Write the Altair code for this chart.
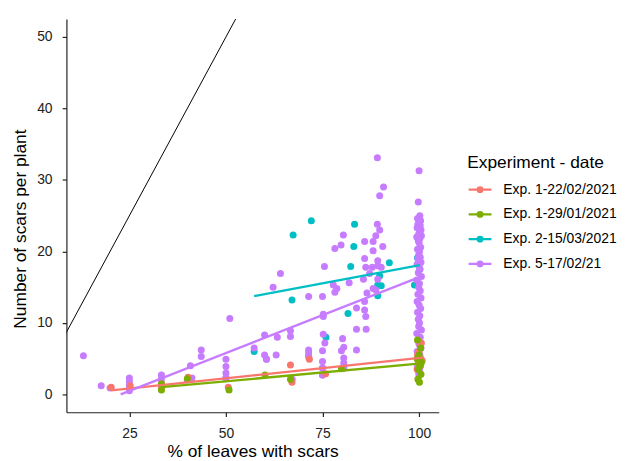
import altair as alt
import numpy as np
import pandas as pd

groups = ["Exp. 1-22/02/2021", "Exp. 1-29/01/2021", "Exp. 2-15/03/2021", "Exp. 5-17/02/21"]
colors = ["#F8766D", "#7CAE00", "#00BFC4", "#C77CFF"]

# Exp. 1-22/02/2021
red_x = [20.3, 25.2, 33.3, 33.3, 40.2, 50.6, 66.7, 67.1, 71.6, 75.8,
         100.6, 100.3, 100.0, 99.6, 100.5, 100.8, 99.8, 100.2, 99.5, 100.4]
red_y = [1.0, 1.2, 1.2, 0.8, 2.4, 1.0, 4.1, 1.7, 4.9, 2.9,
         7.2, 6.9, 6.0, 5.5, 5.0, 4.7, 4.5, 4.0, 3.5, 4.0]

# Exp. 1-29/01/2021
green_x = [33.3, 33.3, 40.0, 50.8, 60.1, 66.7, 79.9,
           99.6, 100.4, 100.0, 99.5, 100.6, 100.2, 99.8, 100.5, 99.7, 100.1]
green_y = [0.6, 1.5, 2.2, 0.6, 2.7, 2.1, 3.6,
           7.6, 6.5, 5.5, 5.0, 4.5, 4.0, 3.5, 2.8, 2.1, 1.7]

# Exp. 2-15/03/2021
cyan_x = [57.3, 67.1, 67.4, 72.1, 75.9, 81.6, 82.3, 83.1, 83.3, 89.3,
          89.8, 90.2, 89.3, 92.3, 98.8, 100.2, 99.6]
cyan_y = [6.0, 13.2, 22.3, 24.3, 8.0, 11.3, 17.9, 20.7, 23.8, 15.3,
          16.6, 15.2, 13.8, 18.4, 15.3, 17.5, 19.1]

# Exp. 5-17/02/21
purple_x = [13.1, 17.7, 20.0, 25.0, 25.0, 25.0, 25.0, 25.0, 33.3, 33.3,
            33.3, 40.0, 40.8, 41.2, 43.6, 43.6, 50.0, 50.0, 50.0, 50.0,
            51.0, 57.3, 60.0, 60.0, 60.5, 63.0, 63.3, 62.2, 64.1, 66.7,
            66.7, 67.1, 71.4, 71.4, 71.4, 71.4, 75.0, 75.5, 75.2, 75.2,
            75.2, 75.6, 75.0, 75.0, 75.0, 75.0, 77.8, 78.7, 78.2, 78.2,
            79.8, 80.4, 80.2, 80.5, 79.9, 80.5, 80.5, 80.5, 81.9, 83.8,
            83.8, 83.8, 85.9, 85.9, 86.2, 86.3, 86.5, 85.6, 85.9, 86.2,
            85.9, 87.2, 87.9, 88.1, 88.1, 88.1, 88.8, 88.8, 89.2, 89.8,
            89.3, 89.3, 89.3, 90.2, 90.6, 89.2, 90.8, 89.8,
            75.0, 67.1, 71.4, 80.5, 75.0, 60.5, 50.0,
            100.0, 99.8, 100.2, 99.6, 100.4, 100.0, 99.7, 100.3, 99.5, 100.5,
            100.1, 99.9, 100.6, 99.4, 100.2, 99.8, 100.0, 100.4, 99.6, 100.1,
            99.9, 100.3, 99.7, 100.5, 99.5, 100.0, 100.2, 99.8, 100.6, 99.4,
            100.1, 99.9, 100.3, 99.7, 100.5, 99.5, 100.0, 100.4, 99.6, 100.2,
            99.8, 100.1, 99.9, 100.6, 99.4, 100.3, 99.7, 100.0, 100.5, 99.5,
            100.2, 99.8, 100.4, 99.6, 100.1, 99.9, 100.0]
purple_y = [5.4, 1.2, 0.9, 2.3, 1.8, 1.3, 0.8, 0.5, 2.7, 2.2,
            1.6, 2.0, 4.0, 2.3, 6.2, 5.3, 4.9, 3.9, 3.0, 2.3,
            10.6, 6.5, 8.3, 5.5, 4.9, 5.5, 8.0, 15.0, 16.9, 8.9,
            8.1, 2.1, 13.7, 6.2, 5.8, 5.3, 13.7, 17.9, 11.2, 10.9,
            8.4, 7.2, 6.1, 4.6, 3.7, 2.7, 15.3, 14.8, 14.3, 20.4,
            20.9, 22.3, 7.8, 6.6, 6.1, 5.1, 4.4, 3.7, 15.6, 12.1,
            9.1, 6.2, 13.0, 11.8, 10.9, 9.1, 14.2, 16.1, 19.0, 17.8,
            21.4, 16.9, 17.8, 21.4, 20.1, 14.8, 14.6, 22.2, 23.8, 23.0,
            18.7, 18.0, 16.1, 17.8, 20.7, 33.1, 29.0, 27.8,
            2.7, 2.1, 5.3, 3.7, 3.7, 4.9, 2.3,
            31.3, 26.9, 25.0, 24.6, 24.3, 24.0, 23.8, 23.6, 23.3, 23.0,
            22.7, 22.4, 22.2, 22.0, 21.8, 21.5, 21.2, 20.6, 20.3, 20.0,
            19.5, 19.2, 19.0, 18.5, 18.2, 18.0, 17.5, 17.0, 16.5, 16.0,
            15.5, 15.0, 14.5, 14.0, 13.5, 13.0, 12.5, 12.0, 11.5, 11.0,
            10.5, 10.0, 9.5, 9.0, 8.5, 8.0, 7.5, 7.0, 6.5, 6.0,
            5.5, 5.0, 4.5, 4.0, 3.5, 3.0, 2.6]

# identity reference line y = x
ref_x = [0, 60]

xs = [red_x, green_x, cyan_x, purple_x]
ys = [red_y, green_y, cyan_y, purple_y]
draw_order = [2, 3, 0, 1]

pts = pd.concat(
    [pd.DataFrame({"x": xs[g], "y": ys[g], "grp": groups[g]}) for g in draw_order],
    ignore_index=True,
)

rows = []
for g in range(4):
    a, b = np.polyfit(xs[g], ys[g], 1)
    x0, x1 = min(xs[g]), max(xs[g])
    if a > 0 and a * x0 + b < 0:
        x0 = -b / a
    rows.append({"x": x0, "y": a * x0 + b, "grp": groups[g]})
    rows.append({"x": x1, "y": a * x1 + b, "grp": groups[g]})
fits = pd.DataFrame(rows)
ref = pd.DataFrame({"x": ref_x, "y": ref_x})

xscale = alt.Scale(domain=[8.7, 105.1], nice=False, zero=False)
yscale = alt.Scale(domain=[-2.5, 52.5], nice=False, zero=False)
xaxis = alt.Axis(values=[25, 50, 75, 100], title="% of leaves with scars",
                 labelPadding=10, titlePadding=2.4)
yaxis = alt.Axis(values=[0, 10, 20, 30, 40, 50], title="Number of scars per plant",
                 labelPadding=10.2, titlePadding=7.7, titleY=211.5)
cscale = alt.Scale(domain=groups, range=colors)
sym = "M-1,0H1M-0.2,0A0.2,0.2,0,1,0,0.2,0A0.2,0.2,0,1,0,-0.2,0"
leg = alt.Legend(title="Experiment - date", symbolType=sym)

points = alt.Chart(pts).mark_circle(size=50, opacity=1).encode(
    x=alt.X("x:Q", scale=xscale, axis=xaxis),
    y=alt.Y("y:Q", scale=yscale, axis=yaxis),
    color=alt.Color("grp:N", scale=cscale, legend=leg),
)
lines = alt.Chart(fits).mark_line(strokeWidth=2.3).encode(
    x="x:Q", y="y:Q", color=alt.Color("grp:N", scale=cscale, legend=leg),
)
abline = alt.Chart(ref).mark_line(color="black", strokeWidth=1, clip=True).encode(
    x="x:Q", y="y:Q",
)

chart = alt.layer(points, lines, abline).properties(
    width=376, height=397,
    autosize=alt.AutoSizeParams(type="none"),
    padding={"left": 59, "top": 9, "right": 182, "bottom": 46},
).configure_view(stroke=None).configure_axis(
    grid=False, domainColor="#222222", tickColor="#222222", domainWidth=1.2, tickWidth=1.2,
    tickSize=4.3, labelColor="#222222", titleColor="black",
    labelFont="Liberation Sans", titleFont="Liberation Sans",
    labelFontSize=14, titleFontSize=17.5, titleFontWeight="normal",
).configure_legend(
    orient="none", legendX=404.7, legendY=136.7, padding=0,
    titleFont="Liberation Sans", labelFont="Liberation Sans",
    titleFontSize=17.5, titleFontWeight="normal", titleColor="black",
    labelFontSize=14, labelColor="black", symbolSize=529, symbolStrokeWidth=2.3,
    rowPadding=5, titlePadding=5, labelOffset=10.5,
)

chart.save("out.html", embed_options={"renderer": "svg", "actions": False})
